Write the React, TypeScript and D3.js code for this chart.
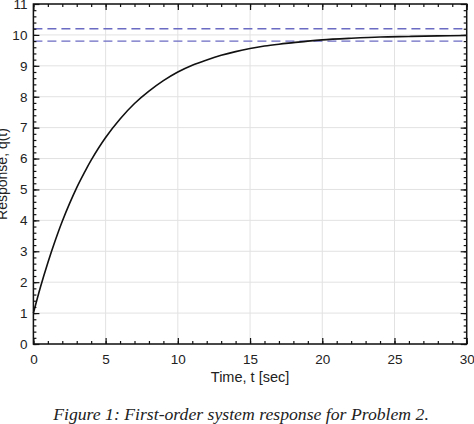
import React, { useRef, useEffect } from 'react';
import { select, line, curveCatmullRom, scaleLinear, axisBottom, axisLeft, axisTop, axisRight, range } from 'd3';

// response
const time = [0, 0.5, 1, 1.5, 2, 2.5, 3, 3.5, 4, 5, 6, 7, 8, 9, 10, 11, 12, 13, 14, 15, 16, 17, 18, 19, 20, 22, 24, 26, 28, 30];
const response = [1.0, 1.86, 2.63, 3.33, 3.97, 4.54, 5.06, 5.52, 5.95, 6.68, 7.28, 7.78, 8.18, 8.52, 8.8, 9.02, 9.19, 9.34, 9.46, 9.56, 9.64, 9.7, 9.75, 9.8, 9.84, 9.89, 9.93, 9.95, 9.97, 9.98];
const bandLevels = [10.2, 9.8];
const xTicks = [0, 5, 10, 15, 20, 25, 30];
const yTicks = [0, 1, 2, 3, 4, 5, 6, 7, 8, 9, 10, 11];
const xMinor = range(0, 31, 1);
const yMinor = range(0, 55, 1).map((i) => +(i * 0.2).toFixed(1));

const W = 474;
const H = 424;
const left = 33.4;
const right = 466.7;
const top = 4;
const bottom = 344;

export default function App() {
    const svgRef: { current: SVGSVGElement | null } = useRef(null);

    const x: any = scaleLinear().domain([0, 30]).range([left, right]);
    const y: any = scaleLinear().domain([0, 11]).range([bottom, top]);

    useEffect(() => {
        const svg = select(svgRef.current);
        const font = (g: any) => {
            g.select('.domain').remove();
            g.selectAll('text').attr('font-family', '"Liberation Sans", Arial, sans-serif').attr('font-size', 13.5).attr('fill', '#222');
            g.selectAll('line').attr('stroke', '#111').attr('stroke-width', 1.2);
        };

        svg.select('.x-axis').attr('transform', `translate(0,${bottom})`)
            .call(axisBottom(x).tickValues(xTicks).tickSizeInner(-6).tickSizeOuter(0).tickPadding(10) as any).call(font);
        svg.select('.x-minor').attr('transform', `translate(0,${bottom})`)
            .call(axisBottom(x).tickValues(xMinor).tickSizeInner(-3).tickSizeOuter(0).tickFormat(() => '') as any).call(font);
        svg.select('.x-top').attr('transform', `translate(0,${top})`)
            .call(axisTop(x).tickValues(xTicks).tickSizeInner(-6).tickSizeOuter(0).tickFormat(() => '') as any).call(font);
        svg.select('.x-top-minor').attr('transform', `translate(0,${top})`)
            .call(axisTop(x).tickValues(xMinor).tickSizeInner(-3).tickSizeOuter(0).tickFormat(() => '') as any).call(font);

        svg.select('.y-axis').attr('transform', `translate(${left},0)`)
            .call(axisLeft(y).tickValues(yTicks).tickSizeInner(-6).tickSizeOuter(0).tickPadding(6) as any).call(font);
        svg.select('.y-minor').attr('transform', `translate(${left},0)`)
            .call(axisLeft(y).tickValues(yMinor).tickSizeInner(-3).tickSizeOuter(0).tickFormat(() => '') as any).call(font);
        svg.select('.y-right').attr('transform', `translate(${right},0)`)
            .call(axisRight(y).tickValues(yTicks).tickSizeInner(-6).tickSizeOuter(0).tickFormat(() => '') as any).call(font);
        svg.select('.y-right-minor').attr('transform', `translate(${right},0)`)
            .call(axisRight(y).tickValues(yMinor).tickSizeInner(-3).tickSizeOuter(0).tickFormat(() => '') as any).call(font);

        const curve: any = line()
            .x((d: any) => x(d[0]))
            .y((d: any) => y(d[1]))
            .curve(curveCatmullRom.alpha(0.5));

        svg.select('.line')
            .datum(time.map((t, i) => [t, response[i]]))
            .attr('d', curve)
            .attr('fill', 'none')
            .attr('stroke', '#111')
            .attr('stroke-width', 1.6);
    }, []);

    return (
        <svg ref={svgRef} width={W} height={H} style={{ position: 'absolute', left: 0, top: 0, background: '#fff' }}>
            <rect x={0} y={0} width={W} height={H} fill="#fff" />
            {xTicks.map((t) => (
                <line key={'gx' + t} x1={x(t)} x2={x(t)} y1={top} y2={bottom} stroke="#e2e2e2" strokeWidth={1} />
            ))}
            {yTicks.map((v) => (
                <line key={'gy' + v} x1={left} x2={right} y1={y(v)} y2={y(v)} stroke="#e2e2e2" strokeWidth={1} />
            ))}
            {bandLevels.map((v) => (
                <line key={'b' + v} x1={left} x2={right} y1={y(v)} y2={y(v)} stroke="#6b6bc4" strokeWidth={1.4} strokeDasharray="9,5" />
            ))}
            <path className="line"></path>
            <g className="x-minor" />
            <g className="x-axis" />
            <g className="x-top-minor" />
            <g className="x-top" />
            <g className="y-minor" />
            <g className="y-axis" />
            <g className="y-right-minor" />
            <g className="y-right" />
            <rect x={left} y={top} width={right - left} height={bottom - top} fill="none" stroke="#111" strokeWidth={1.5} />
            <text x={(left + right) / 2} y={382} textAnchor="middle" fontFamily='"Liberation Sans", Arial, sans-serif' fontSize={14.5} fill="#222">
                Time, t [sec]
            </text>
            <text transform={`translate(7,${(top + bottom) / 2}) rotate(-90)`} textAnchor="middle" fontFamily='"Liberation Sans", Arial, sans-serif' fontSize={14} fill="#222">
                Response, q(t)
            </text>
            <text x={241} y={420} textAnchor="middle" fontFamily='"Liberation Serif", "Times New Roman", serif' fontStyle="italic" fontSize={17.7} fill="#222">
                Figure 1: First-order system response for Problem 2.
            </text>
        </svg>
    );
}
